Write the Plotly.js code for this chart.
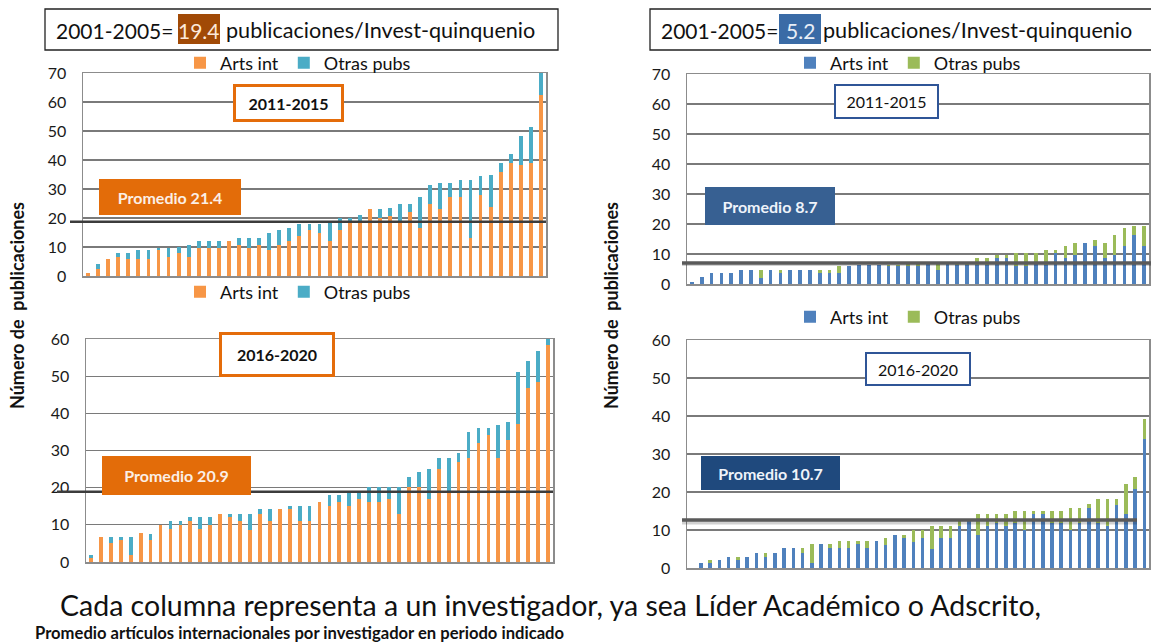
<!DOCTYPE html>
<html>
<head>
<meta charset="utf-8">
<script src="https://cdn.plot.ly/plotly-3.0.1.min.js"></script>
<style>html,body{margin:0;padding:0;background:#fff;}#chart{width:1151px;height:644px;}</style>
</head>
<body>
<div id="chart"></div>
<script>
// ---------- DATA ----------
const seriesNames = ["Arts int", "Otras pubs"];
const periods = ["2011-2015", "2016-2020"];
const promedioLabels = ["Promedio 21.4", "Promedio 20.9", "Promedio 8.7", "Promedio 10.7"];
const promedioLineValues = [18.7, 18.9, 7.0, 12.6];
const headerLeft = ["2001-2005=", "19.4", "publicaciones/Invest-quinquenio"];
const headerRight = ["2001-2005=", "5.2", "publicaciones/Invest-quinquenio"];
const yAxisLabel = "Número de  publicaciones";
const footerMain = "Cada columna representa a un investigador, ya sea Líder Académico o Adscrito,";
const footerBold = "Promedio artículos internacionales por investigador en periodo indicado";

// Panel 1: left, 2011-2015
const p1Arts = [1, 2.5, 6, 6.5, 6, 6, 6, 9, 6.6, 8, 6.6, 9.7, 9.7, 9.7, 12, 10.8, 9.7, 10.8, 9, 10.8, 12, 13.7, 16, 14.9, 12, 16, 19, 19, 23, 20, 20.7, 19, 22, 16.6, 25, 23, 27.3, 27.3, 13.1, 28, 23.8, 36, 39, 38.4, 39, 62.5];
const p1Otras = [0, 1.5, 0, 1.5, 2, 3, 3, 0.6, 3, 2, 4.2, 2.3, 2.3, 2.3, 0, 2.3, 3.4, 2.3, 5.8, 5.2, 4.6, 4.1, 2.1, 3.2, 7, 4.1, 1.1, 2, 0, 3, 2.9, 5.8, 3, 10.7, 6.4, 9, 4.7, 5.8, 20, 6.4, 11.1, 3, 3, 10, 12.5, 8.5];
// Panel 2: left, 2016-2020
const p2Arts = [1, 6.8, 5, 5.8, 1.8, 7.7, 5.8, 10, 8.8, 10, 11, 8.8, 10, 12.9, 12, 11, 8.7, 12.8, 11, 14.2, 14.2, 11, 11, 16.1, 15.1, 16.1, 15.1, 17, 16.1, 16.1, 17, 12.8, 20.1, 20.1, 17, 25, 19.2, 26.8, 27.9, 31.9, 34.2, 27.9, 32.8, 37, 46.9, 48.4, 58.4];
const p2Otras = [1, 0, 1.8, 0.9, 4.9, 0, 1.8, 0, 2.2, 1, 1, 3.2, 2, 0, 0.9, 1.9, 4.1, 1.4, 3.2, 0, 0.9, 4.1, 4.1, 0, 2.8, 1.8, 4.1, 2.2, 4, 4, 3.1, 7.3, 2.7, 4, 8, 2.9, 8.7, 2.4, 7.2, 4.1, 1.8, 9, 5, 14.1, 7.3, 8.5, 1.8];
// Panel 3: right, 2011-2015
const p3Arts = [0.8, 2.4, 3.6, 3.6, 3.6, 4.8, 4.8, 1.9, 4.8, 3.6, 4.8, 4.8, 4.8, 3.6, 3.6, 3.6, 5.9, 6.3, 6.3, 6.3, 5.9, 5.9, 5.9, 5.9, 6.9, 4.7, 6.9, 6.3, 6.3, 6.3, 6.3, 8.7, 8.7, 5.9, 5.9, 7, 6.3, 10.2, 8.6, 9.7, 13.7, 12.6, 8.6, 9.7, 12.6, 16.4, 12.6];
const p3Otras = [0, 0, 0, 0, 0, 0, 0, 2.9, 0, 1.2, 0, 0, 0, 1.2, 1.2, 2.3, 0, 0, 0, 0, 0.4, 0.4, 1, 1, 0, 2.2, 0, 0.6, 0.6, 2.4, 2.4, 1, 1, 4.4, 4.4, 3.3, 5.1, 1.2, 4, 4, 0, 2.2, 5.1, 6.7, 6.1, 2.8, 6.6];
// Panel 4: right, 2016-2020
const p4Arts = [0, 1.2, 1.2, 2.1, 3, 2.1, 3, 3.9, 3, 3.9, 5.3, 5.3, 3.9, 1.2, 6.3, 5.3, 5.3, 5.3, 6.3, 5.3, 7.2, 6, 8.8, 7.9, 6.9, 7.9, 5.1, 7.9, 7.9, 11, 12.3, 8.7, 11, 11.9, 11, 11.9, 10.1, 14.2, 14.2, 11.9, 11.9, 10.1, 11.9, 15.8, 11.9, 11, 16.7, 14.1, 20.8, 33.9];
const p4Otras = [0, 0, 0.9, 0, 0, 0.9, 0, 0, 0.9, 0, 0, 0, 1.4, 5.1, 0, 1, 1.9, 1.9, 0.9, 1.9, 0, 1.9, 0, 0.9, 3.1, 2.1, 5.9, 3.1, 3.1, 1.5, 0, 5.5, 3.2, 2.3, 3.2, 3.1, 4.9, 0.8, 0.8, 3.1, 3.1, 5.8, 4, 1, 6.2, 7.1, 1.4, 8, 3.1, 5.3];

// ---------- STYLE ----------
const W = 1151, H = 644;
const FONT = "Lato, 'Open Sans', sans-serif";
const C = {orange: "#F79646", cyan: "#4BACC6", blue: "#4F81BD", green: "#9BBB59"};
const px = v => v / W;
const py = v => 1 - v / H;
const idx = arr => arr.map((_, i) => i + 1);

function bars(arts, otras, ax, colA, colO, leg) {
  const xs = idx(arts);
  return [
    {type: "bar", x: xs, y: arts, name: seriesNames[0], xaxis: "x" + ax, yaxis: "y" + ax,
     marker: {color: colA}, legend: leg, hoverinfo: "skip"},
    {type: "bar", x: xs, y: otras, name: seriesNames[1], xaxis: "x" + ax, yaxis: "y" + ax,
     marker: {color: colO}, legend: leg, hoverinfo: "skip"}
  ];
}

const data = [].concat(
  bars(p1Arts, p1Otras, "", C.orange, C.cyan, "legend"),
  bars(p2Arts, p2Otras, "2", C.orange, C.cyan, "legend2"),
  bars(p3Arts, p3Otras, "3", C.blue, C.green, "legend3"),
  bars(p4Arts, p4Otras, "4", C.blue, C.green, "legend4")
);
data[0].xaxis = "x"; data[0].yaxis = "y"; data[1].xaxis = "x"; data[1].yaxis = "y";

function xAx(x0, x1, n) {
  return {domain: [px(x0), px(x1)], range: [0.5, n + 0.5], showticklabels: false, showgrid: false,
          zeroline: false, showline: true, mirror: true, linecolor: "#8c8c8c", linewidth: 1.5, ticks: "", fixedrange: true};
}
function yAx(y0, y1, max, anchor) {
  return {domain: [py(y1), py(y0)], range: [0, max], dtick: 10, showgrid: true, gridcolor: "#7a7a7a", gridwidth: 1.2,
          zeroline: false, showline: true, mirror: true, linecolor: "#8c8c8c", linewidth: 1.5,
          tickfont: {family: FONT, size: 16, color: "#1a1a1a"}, ticklabelstandoff: 12, anchor: anchor, fixedrange: true};
}

function legendAt(x, y) {
  return {x: px(x), y: py(y), xanchor: "left", yanchor: "middle", orientation: "h", bgcolor: "rgba(0,0,0,0)",
          font: {family: FONT, size: 18, color: "#111"}, traceorder: "normal", itemclick: false, itemdoubleclick: false};
}

const shapes = [];
const annotations = [];

function lineShape(x0, x1, yv, yref, color, width) {
  shapes.push({type: "line", xref: "paper", yref: yref, x0: px(x0), x1: px(x1), y0: yv, y1: yv,
               line: {color: color, width: width}, layer: "above"});
}
// average lines
lineShape(70, 546, promedioLineValues[0], "y", "#3c3c3c", 2.5);
lineShape(57, 553, promedioLineValues[1], "y2", "#3c3c3c", 2.5);
lineShape(682, 1151, promedioLineValues[2] - 0.5, "y3", "rgba(0,0,0,0.18)", 3);
lineShape(682, 1151, promedioLineValues[2], "y3", "#5a5a5a", 3.5);
lineShape(682, 1137, promedioLineValues[3] - 0.6, "y4", "rgba(0,0,0,0.18)", 4);
lineShape(682, 1137, promedioLineValues[3], "y4", "#5a5a5a", 3.5);

// header boxes
function rectPx(x0, y0, x1, y1, fill, lineColor, lw) {
  shapes.push({type: "rect", xref: "paper", yref: "paper", x0: px(x0), x1: px(x1), y0: py(y1), y1: py(y0),
               fillcolor: fill, line: {color: lineColor, width: lw}, layer: "above"});
}
rectPx(45, 9, 558, 50, "rgba(0,0,0,0)", "#222", 1.3);
rectPx(178, 14, 220, 44, "#A14A06", "rgba(0,0,0,0)", 0);
rectPx(650, 9, 1160, 50, "rgba(0,0,0,0)", "#222", 1.3);
rectPx(779, 14, 821, 44, "#3A6BA6", "rgba(0,0,0,0)", 0);

function textPx(x, y, text, size, color, anchor, bold, extra) {
  const a = Object.assign({xref: "paper", yref: "paper", x: px(x), y: py(y), text: bold ? "<b>" + text + "</b>" : text,
    showarrow: false, xanchor: anchor || "left", yanchor: "middle",
    font: {family: FONT, size: size, color: color}}, extra || {});
  annotations.push(a);
}
textPx(54, 30, headerLeft[0], 21, "#111");
textPx(199, 30, headerLeft[1], 21, "#FCE9DA", "center");
textPx(224, 30, headerLeft[2], 21.6, "#111");
textPx(659, 30, headerRight[0], 21, "#111");
textPx(800, 30, headerRight[1], 21, "#E8EEF7", "center");
textPx(821, 30, headerRight[2], 21.6, "#111");

// boxes inside plots
function boxPx(x0, y0, x1, y1, text, opts) {
  const bw = opts.bw || 0;
  annotations.push({xref: "paper", yref: "paper", x: px((x0 + x1) / 2), y: py((y0 + y1) / 2),
    xanchor: "center", yanchor: "middle", showarrow: false,
    width: (x1 - x0) - 2 * bw, height: (y1 - y0) - 2 * bw, borderpad: 0,
    text: opts.bold ? "<b>" + text + "</b>" : text, align: "center", valign: "middle",
    bgcolor: opts.bg, bordercolor: opts.border || "rgba(0,0,0,0)", borderwidth: bw,
    font: {family: FONT, size: 16, color: opts.color}});
}
boxPx(233, 84, 344, 122, periods[0], {bg: "#fff", border: "#E46C0A", bw: 3, bold: true, color: "#111"});
boxPx(99, 179, 241, 215, promedioLabels[0], {bg: "#E36C09", bold: true, color: "#FBEFE6"});
boxPx(219, 332, 335, 377, periods[1], {bg: "#fff", border: "#E46C0A", bw: 3, bold: true, color: "#111"});
boxPx(102, 456, 251, 495, promedioLabels[1], {bg: "#E36C09", bold: true, color: "#FBEFE6"});
boxPx(834, 84, 939, 119, periods[0], {bg: "#fff", border: "#2F5597", bw: 2, color: "#111"});
boxPx(705, 187, 835, 225, promedioLabels[2], {bg: "#376092", bold: true, color: "#EEF3FA"});
boxPx(865, 352, 971, 386, periods[1], {bg: "#fff", border: "#2F5597", bw: 2, color: "#111"});
boxPx(701, 456, 840, 490, promedioLabels[3], {bg: "#1F497D", bold: true, color: "#EEF3FA"});

// y-axis labels
textPx(17, 306, yAxisLabel, 18, "#111", "center", true, {textangle: -90});
textPx(611, 306, yAxisLabel, 18, "#111", "center", true, {textangle: -90});
// footer
textPx(58, 605, footerMain, 28.5, "#111");
textPx(33, 633, footerBold, 16.6, "#111", "left", true);

const layout = {
  width: W, height: H, margin: {l: 0, r: 0, t: 0, b: 0}, paper_bgcolor: "#fff", plot_bgcolor: "#fff",
  barmode: "stack", bargap: 0.62, hovermode: false, showlegend: true,
  font: {family: FONT},
  xaxis: xAx(83, 546, p1Arts.length), yaxis: yAx(73, 276, 70, "x"),
  xaxis2: xAx(86, 553, p2Arts.length), yaxis2: yAx(339, 562, 60, "x2"),
  xaxis3: xAx(687, 1149, p3Arts.length), yaxis3: yAx(74, 284, 70, "x3"),
  xaxis4: xAx(687, 1149, p4Arts.length), yaxis4: yAx(340, 568, 60, "x4"),
  legend: legendAt(180, 63), legend2: legendAt(180, 292), legend3: legendAt(790, 63), legend4: legendAt(790, 317),
  shapes: shapes, annotations: annotations
};
layout.xaxis.anchor = "y"; layout.xaxis2.anchor = "y2"; layout.xaxis3.anchor = "y3"; layout.xaxis4.anchor = "y4";

Plotly.newPlot("chart", data, layout, {displayModeBar: false, staticPlot: true});
</script>
</body>
</html>
